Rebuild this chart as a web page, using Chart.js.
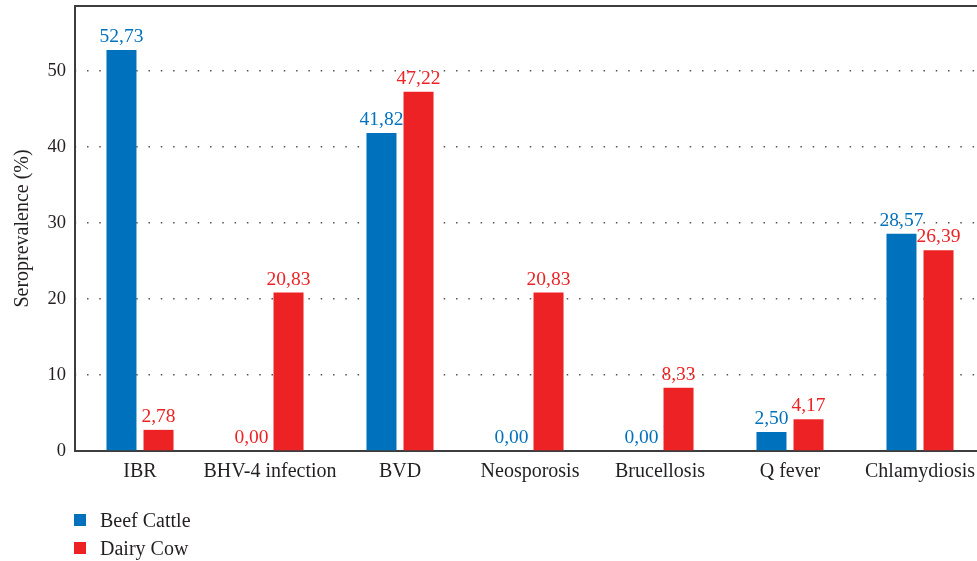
<!DOCTYPE html>
<html>
<head>
<meta charset="utf-8">
<script src="https://cdn.jsdelivr.net/npm/chart.js@4/dist/chart.umd.min.js"></script>
<style>
  body { margin: 0; overflow: hidden; background: #fff; }
  #wrap { position: relative; width: 985px; height: 561px; }
  .legend { position: absolute; left: 74px; top: 506px; font: 20px "Liberation Serif", serif; color: #231f20; }
  .legend div { height: 28px; display: flex; align-items: center; }
  .legend span.box { width: 12px; height: 12px; display: inline-block; margin-right: 14px; }
</style>
</head>
<body>
<div id="wrap">
  <canvas id="seroChart"></canvas>
  <div class="legend" id="legend"></div>
</div>
<script>
// data
const categories = ["IBR", "BHV-4 infection", "BVD", "Neosporosis", "Brucellosis", "Q fever", "Chlamydiosis"];
const beefCattle = [52.73, 0, 41.82, 0, 0, 2.50, 28.57];
const dairyCow = [2.78, 20.83, 47.22, 20.83, 8.33, 4.17, 26.39];
const yTicks = [0, 10, 20, 30, 40, 50];

const BLUE = "#0071bc";
const RED = "#ed2224";
const AXIS = "#3d3d3d";
const FONT = '"Liberation Serif", serif';

// the 0,00 label of BHV-4 is printed red in the original
const beefLabelColors = [BLUE, RED, BLUE, BLUE, BLUE, BLUE, BLUE];

const fmt = v => v.toFixed(2).replace(".", ",");

const valueLabels = {
    id: "valueLabels",
    afterDatasetsDraw(chart) {
        const ctx = chart.ctx;
        ctx.save();
        ctx.font = "19.5px " + FONT;
        ctx.textAlign = "center";
        ctx.textBaseline = "alphabetic";
        chart.data.datasets.forEach((ds, i) => {
            chart.getDatasetMeta(i).data.forEach((bar, j) => {
                ctx.fillStyle = ds.labelColors ? ds.labelColors[j] : ds.backgroundColor;
                ctx.fillText(fmt(ds.data[j]), bar.x, bar.y - 8);
            });
        });
        ctx.restore();
    }
};

const topLine = {
    id: "topLine",
    afterDraw(chart) {
        const { ctx, chartArea } = chart;
        ctx.save();
        ctx.strokeStyle = AXIS;
        ctx.lineWidth = 2;
        ctx.beginPath();
        ctx.moveTo(chartArea.left - 1, chartArea.top);
        ctx.lineTo(chartArea.right, chartArea.top);
        ctx.stroke();
        ctx.restore();
    }
};

const chart = new Chart(document.getElementById("seroChart"), {
    type: "bar",
    data: {
        labels: categories,
        datasets: [
            { label: "Beef Cattle", data: beefCattle, backgroundColor: BLUE, labelColors: beefLabelColors },
            { label: "Dairy Cow", data: dairyCow, backgroundColor: RED }
        ]
    },
    options: {
        responsive: true,
        maintainAspectRatio: false,
        animation: false,
        layout: { padding: { top: 6, right: 0, left: 0, bottom: 0 } },
        datasets: { bar: { categoryPercentage: 0.57, barPercentage: 0.81 } },
        plugins: { legend: { display: false }, tooltip: { enabled: false } },
        scales: {
            x: {
                grid: { display: false, drawTicks: false },
                border: { display: true, color: AXIS, width: 2 },
                ticks: { color: "#231f20", font: { family: FONT, size: 20 }, padding: 9, maxRotation: 0, autoSkip: false },
                afterFit(scale) { scale.height = 110; scale.paddingLeft = 0; scale.paddingRight = 0; }
            },
            y: {
                min: 0,
                max: 58.5,
                afterBuildTicks(scale) { scale.ticks = yTicks.map(v => ({ value: v })); },
                grid: {
                    drawTicks: false,
                    color: ctx => ctx.tick && ctx.tick.value === 0 ? "rgba(0,0,0,0)" : "#555",
                    lineWidth: 1.5
                },
                border: { display: true, color: AXIS, width: 2, dash: [1.5, 10.8], dashOffset: -11 },
                ticks: { color: "#231f20", font: { family: FONT, size: 18.5 }, padding: 9 },
                title: { display: true, text: "Seroprevalence (%)", color: "#231f20", font: { family: FONT, size: 20 }, padding: { top: 11, bottom: 0 } },
                afterFit(scale) { scale.width = 75; scale.paddingTop = 0; scale.paddingBottom = 0; }
            }
        }
    },
    plugins: [valueLabels, topLine]
});

// legend stacked under the plot, built from the datasets
document.getElementById("legend").innerHTML = chart.data.datasets
    .map(ds => `<div><span class="box" style="background:${ds.backgroundColor}"></span>${ds.label}</div>`)
    .join("");
</script>
</body>
</html>
